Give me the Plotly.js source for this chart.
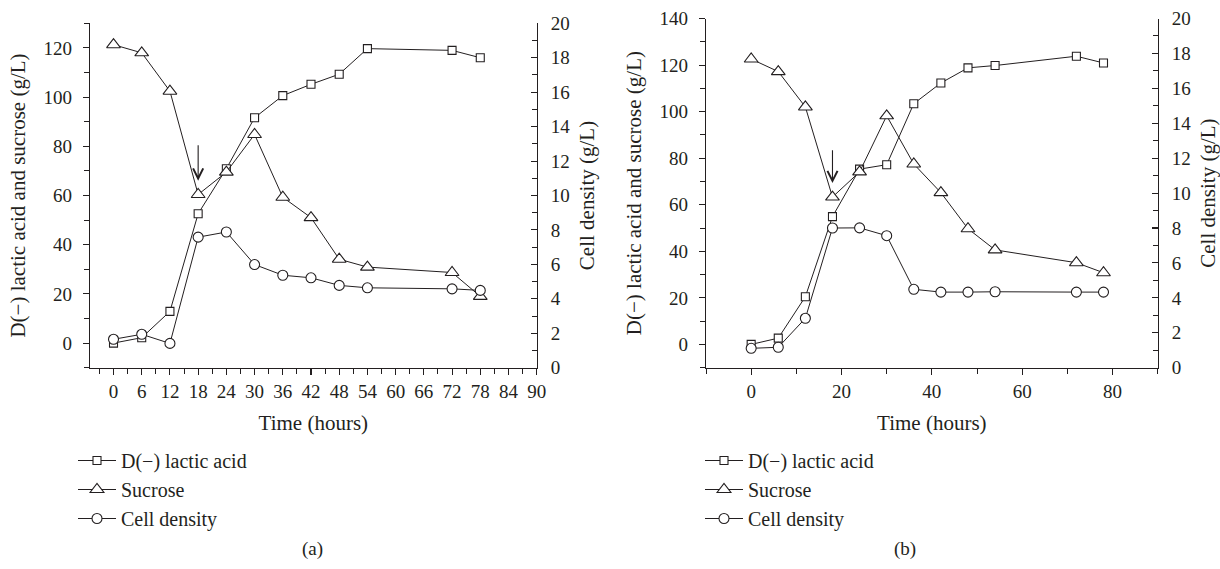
<!DOCTYPE html>
<html>
<head>
<meta charset="utf-8">
<script src="https://cdn.plot.ly/plotly-3.0.1.min.js"></script>
<style>html,body{margin:0;padding:0;background:#fff;}#chart{width:1220px;height:569px;}</style>
</head>
<body>
<div id="chart"></div>
<script>
// ---- data ----
const hours = [0, 6, 12, 18, 24, 30, 36, 42, 48, 54, 72, 78];

// Panel (a)
const lacticA  = [0, 2.2, 12.9, 52.6, 70.9, 91.6, 100.6, 105.2, 109.3, 119.7, 119.0, 116.0];
const sucroseA = [121.3, 118.0, 102.4, 60.4, 69.5, 84.8, 59.3, 51.0, 34.1, 30.9, 28.7, 19.0];
const cellA    = [1.65, 1.94, 1.41, 7.58, 7.88, 5.99, 5.37, 5.22, 4.78, 4.64, 4.58, 4.49];

// Panel (b)
const lacticB  = [0, 2.7, 20.5, 54.9, 75.3, 77.2, 103.4, 112.3, 118.8, 119.8, 123.8, 120.9];
const sucroseB = [122.6, 117.2, 102.0, 63.3, 74.1, 98.2, 77.5, 65.2, 49.7, 40.6, 35.1, 30.8];
const cellB    = [1.11, 1.17, 2.83, 8.0, 8.01, 7.56, 4.49, 4.33, 4.33, 4.35, 4.33, 4.33];

const seriesNames = ["D(\u2212) lactic acid", "Sucrose", "Cell density"];
const panelLabels = ["(a)", "(b)"];
const arrowA = {t: 18, from: 81, to: 66};
const arrowB = {t: 18, from: 84, to: 69.3};

// ---- style ----
const INK = "#231f20";
const FONT = "Liberation Serif, Times New Roman, serif";
const W = 1220, H = 569;
const px = v => v / W;
const py = v => 1 - v / H;

function trace(y, name, symbol, size, xa, ya, legend) {
  return {
    x: hours, y: y, name: name, type: "scatter", mode: "lines+markers",
    xaxis: xa, yaxis: ya, legend: legend, showlegend: true,
    line: {color: INK, width: 1},
    marker: {symbol: symbol, size: size, color: "#ffffff", line: {color: INK, width: 1.1}},
    hoverinfo: "skip"
  };
}

const data = [
  trace(lacticA,  seriesNames[0], "square",      8,  "x",  "y",  "legend"),
  trace(sucroseA, seriesNames[1], "triangle-up", 12, "x",  "y",  "legend"),
  trace(cellA,    seriesNames[2], "circle",      10, "x",  "y2", "legend"),
  trace(lacticB,  seriesNames[0], "square",      8,  "x2", "y3", "legend2"),
  trace(sucroseB, seriesNames[1], "triangle-up", 12, "x2", "y3", "legend2"),
  trace(cellB,    seriesNames[2], "circle",      10, "x2", "y4", "legend2")
];

const tickFont = {family: FONT, size: 19, color: INK};
const titleFont = {family: FONT, size: 21, color: INK};

function baseAxis(extra) {
  return Object.assign({
    showgrid: false, zeroline: false, showline: true, linecolor: INK, linewidth: 1.2,
    ticks: "outside", ticklen: 6, tickwidth: 1.1, tickcolor: INK,
    tickfont: tickFont, fixedrange: true
  }, extra);
}

const legendBase = {
  xanchor: "left", yanchor: "top", itemwidth: 38,
  bgcolor: "rgba(0,0,0,0)", borderwidth: 0,
  font: {family: FONT, size: 20, color: INK}, itemclick: false, itemdoubleclick: false
};

const layout = {
  width: W, height: H,
  margin: {l: 0, r: 0, t: 0, b: 0},
  paper_bgcolor: "#ffffff", plot_bgcolor: "rgba(0,0,0,0)",
  font: {family: FONT, color: INK},
  xaxis: baseAxis({
    domain: [px(90), px(536.7)], anchor: "y", range: [-5, 90],
    tick0: 0, dtick: 6, ticklabelstandoff: 0,
    minor: {dtick: 3, ticks: "outside", ticklen: 5, tickcolor: INK, tickwidth: 1},
    title: {text: "Time (hours)", font: titleFont, standoff: 14}
  }),
  yaxis: baseAxis({
    domain: [py(367.7), py(23.3)], anchor: "x", range: [-10, 130],
    tick0: 0, dtick: 20, ticklabelstandoff: 7,
    minor: {dtick: 10, ticks: "outside", ticklen: 5, tickcolor: INK, tickwidth: 1},
    title: {text: "D(\u2212) lactic acid and sucrose (g/L)", font: titleFont, standoff: 12}
  }),
  yaxis2: baseAxis({
    overlaying: "y", side: "right", anchor: "x", range: [0, 20],
    tick0: 0, dtick: 2, ticks: "inside", ticklabelstandoff: 9,
    minor: {dtick: 1, ticks: "inside", ticklen: 5, tickcolor: INK, tickwidth: 1},
    title: {text: "Cell density (g/L)", font: titleFont, standoff: 10}
  }),
  xaxis2: baseAxis({
    domain: [px(706), px(1157.7)], anchor: "y3", range: [-10, 90],
    tick0: 0, dtick: 20, ticklabelstandoff: 0,
    minor: {dtick: 10, ticks: "outside", ticklen: 5, tickcolor: INK, tickwidth: 1},
    title: {text: "Time (hours)", font: titleFont, standoff: 14}
  }),
  yaxis3: baseAxis({
    domain: [py(367.7), py(18.5)], anchor: "x2", range: [-10, 140],
    tick0: 0, dtick: 20, ticklabelstandoff: 7,
    minor: {dtick: 10, ticks: "outside", ticklen: 5, tickcolor: INK, tickwidth: 1},
    title: {text: "D(\u2212) lactic acid and sucrose (g/L)", font: titleFont, standoff: 12}
  }),
  yaxis4: baseAxis({
    overlaying: "y3", side: "right", anchor: "x2", range: [0, 20],
    tick0: 0, dtick: 2, ticks: "inside", ticklabelstandoff: 9,
    minor: {dtick: 1, ticks: "inside", ticklen: 5, tickcolor: INK, tickwidth: 1},
    title: {text: "Cell density (g/L)", font: titleFont, standoff: 10}
  }),
  legend: Object.assign({x: px(73), y: py(441)}, legendBase),
  legend2: Object.assign({x: px(700), y: py(441)}, legendBase),
  annotations: [
    {xref: "x", yref: "y", x: arrowA.t, y: arrowA.to, axref: "x", ayref: "y", ax: arrowA.t, ay: arrowA.from,
     text: "", showarrow: true, arrowhead: 5, arrowsize: 1.8, arrowwidth: 1.1, arrowcolor: INK},
    {xref: "x2", yref: "y3", x: arrowB.t, y: arrowB.to, axref: "x2", ayref: "y3", ax: arrowB.t, ay: arrowB.from,
     text: "", showarrow: true, arrowhead: 5, arrowsize: 1.8, arrowwidth: 1.1, arrowcolor: INK},
    {xref: "paper", yref: "paper", x: px(300), y: py(549), yanchor: "middle", text: panelLabels[0], showarrow: false,
     font: {family: FONT, size: 19, color: INK}},
    {xref: "paper", yref: "paper", x: px(918), y: py(549), yanchor: "middle", text: panelLabels[1], showarrow: false,
     font: {family: FONT, size: 19, color: INK}}
  ]
};

Plotly.newPlot("chart", data, layout, {displayModeBar: false, staticPlot: true});
</script>
</body>
</html>
